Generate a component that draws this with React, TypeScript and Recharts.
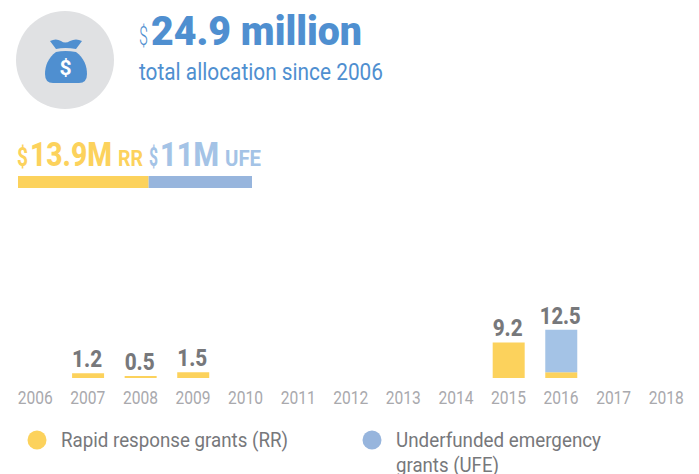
import React from "react";
import { BarChart, Bar, XAxis, YAxis, LabelList } from "recharts";

const years = ["2006","2007","2008","2009","2010","2011","2012","2013","2014","2015","2016","2017","2018"];
const rrValues = [0,1.2,0.5,1.5,0,0,0,0,0,9.2,1.5,0,0];
const ufeValues = [0,0,0,0,0,0,0,0,0,0,11,0,0];
const totals = [0,1.2,0.5,1.5,0,0,0,0,0,9.2,12.5,0,0];
const allocationRR = 13.9;
const allocationUFE = 11;
const rrName = "Rapid response grants (RR)";
const ufeNameLines = ["Underfunded emergency", "grants (UFE)"];

const YELLOW = "#fcd25c";
const BLUE = "#a4c3e6";
const BLUE_DARK = "#97b5dd";
const HEAD = "#4f8fd0";
const GREY = "#77787b";
const TICK = "#a9a9ad";
const FONT = "Roboto, sans-serif";

const data = years.map((y, i) => ({
  year: y,
  rr: rrValues[i],
  ufe: ufeValues[i],
  rrLabel: ufeValues[i] > 0 ? null : totals[i],
  ufeLabel: ufeValues[i] > 0 ? totals[i] : null,
}));
const allocation = [{ name: "allocation", rr: allocationRR, ufe: allocationUFE }];

function T({ x, y, size, weight = 400, color, width, children }: any) {
  return (
    <text x={x} y={y} fontSize={size} fontWeight={weight} fill={color} fontFamily={FONT}
      textLength={width} lengthAdjust="spacingAndGlyphs">{children}</text>
  );
}

function YearTick({ x, y, payload }: any) {
  return (
    <text x={x - 0.5} y={y + 18} textAnchor="middle" fontSize={19} fill={TICK} fontFamily={FONT}
      textLength={35} lengthAdjust="spacingAndGlyphs">{payload.value}</text>
  );
}

function TotalLabel({ x, y, width, value }: any) {
  if (!value) return null;
  const text = String(value);
  const w = text.length > 3 ? 41 : 30;
  return (
    <text x={x + width / 2 - 1} y={y - 6} textAnchor="middle" fontSize={24} fontWeight={800} fill={GREY}
      fontFamily={FONT} textLength={w} lengthAdjust="spacingAndGlyphs">{text}</text>
  );
}

export default function App() {
  return (
    <div style={{ position: "absolute", left: 0, top: 0, width: 699, height: 474, background: "#fff", overflow: "hidden" }}>
      <svg width={699} height={474} style={{ position: "absolute", left: 0, top: 0 }}>
        <circle cx={65} cy={60} r={49} fill="#e0e1e3" />
        <path d="M50 41 Q56 38 61 41 Q65 44 70 41 Q76 38 82 41 L76 49 Q65 47 56 49 Z" fill={HEAD} />
        <path d="M56 52 Q65 50 76 52 C84 58 87 66 87 74 Q87 83 79 83 L53 83 Q45 83 45 74 C45 66 48 58 56 52 Z" fill={HEAD} />
        <text x={65.5} y={75} textAnchor="middle" fontSize={21} fontWeight={700} fill="#fff" fontFamily={FONT}>$</text>

        <T x={139} y={45} size={26} weight={300} color={HEAD} width={9}>$</T>
        <T x={151} y={45} size={41} weight={900} color={HEAD} width={211}>24.9 million</T>
        <T x={139} y={80} size={24} weight={400} color={HEAD} width={244}>total allocation since 2006</T>

        <T x={17} y={166} size={25} weight={700} color={YELLOW} width={11}>$</T>
        <T x={30} y={166} size={34} weight={800} color={YELLOW} width={82}>13.9M</T>
        <T x={118} y={166} size={22} weight={700} color={YELLOW} width={25}>RR</T>
        <T x={149} y={166} size={25} weight={700} color={BLUE} width={9}>$</T>
        <T x={160} y={166} size={34} weight={800} color={BLUE} width={59}>11M</T>
        <T x={225} y={166} size={22} weight={700} color={BLUE} width={36}>UFE</T>

        <circle cx={37} cy={440} r={9.5} fill={YELLOW} />
        <T x={61} y={447} size={20} color={GREY} width={227}>{rrName}</T>
        <circle cx={372} cy={440} r={9.5} fill={BLUE_DARK} />
        <T x={396} y={447} size={20} color={GREY} width={205}>{ufeNameLines[0]}</T>
        <T x={396} y={472} size={20} color={GREY} width={103}>{ufeNameLines[1]}</T>
      </svg>

      <div style={{ position: "absolute", left: 18, top: 176 }}>
        <BarChart width={234} height={12} data={allocation} layout="vertical" barCategoryGap={0}
          margin={{ top: 0, right: 0, bottom: 0, left: 0 }}>
          <XAxis type="number" hide domain={[0, allocationRR + allocationUFE]} />
          <YAxis type="category" dataKey="name" hide />
          <Bar dataKey="rr" stackId="a" fill={YELLOW} isAnimationActive={false} />
          <Bar dataKey="ufe" stackId="a" fill={BLUE_DARK} isAnimationActive={false} />
        </BarChart>
      </div>

      <div style={{ position: "absolute", left: 0, top: 200 }}>
        <BarChart width={699} height={230} data={data} barSize={32}
          margin={{ top: 0, right: 6, bottom: 0, left: 9.5 }}>
          <XAxis dataKey="year" interval={0} height={52} axisLine={false} tickLine={false} tick={<YearTick />} />
          <YAxis hide domain={[0, 46]} />
          <Bar dataKey="rr" stackId="a" fill={YELLOW} isAnimationActive={false}>
            <LabelList dataKey="rrLabel" content={<TotalLabel />} />
          </Bar>
          <Bar dataKey="ufe" stackId="a" fill={BLUE} isAnimationActive={false}>
            <LabelList dataKey="ufeLabel" content={<TotalLabel />} />
          </Bar>
        </BarChart>
      </div>
    </div>
  );
}
